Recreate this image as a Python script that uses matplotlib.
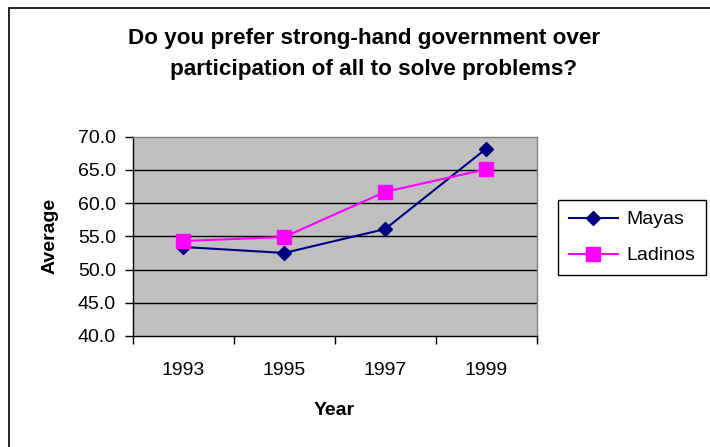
import matplotlib
matplotlib.use("Agg")
import matplotlib.pyplot as plt
from matplotlib.patches import Rectangle

years = ["1993", "1995", "1997", "1999"]
mayas = [53.4, 52.5, 56.1, 68.2]
ladinos = [54.3, 54.9, 61.7, 65.1]
y_ticks = [40.0, 45.0, 50.0, 55.0, 60.0, 65.0, 70.0]

plt.rcParams["font.family"] = ["Liberation Sans", "DejaVu Sans"]

W, H = 710, 447
fig = plt.figure(figsize=(W / 100, H / 100), dpi=100)
fig.patch.set_facecolor("white")

# outer chart border (open to the right and bottom)
fig.patches.append(Rectangle((8.5 / W, -0.2), 1.2, 1.2 - 7.5 / H,
                             transform=fig.transFigure, fill=False,
                             edgecolor="black", linewidth=1.2))

ax = fig.add_axes([132.7 / W, 111 / H, 404 / W, 199.3 / H])
ax.set_facecolor("#C0C0C0")

x = list(range(len(years)))
ax.plot(x, mayas, color="#000080", marker="D", markersize=7, linewidth=1.5,
        label="Mayas", zorder=3)
ax.plot(x, ladinos, color="#FF00FF", marker="s", markersize=9.5, linewidth=1.5,
        label="Ladinos", zorder=3)

ax.set_xlim(-0.5, len(years) - 0.5)
ax.set_ylim(40, 70)
ax.set_yticks(y_ticks)
ax.set_yticklabels([f"{v:.1f}" for v in y_ticks], fontsize=14)
for v in y_ticks[1:-1]:
    ax.axhline(v, color="black", linewidth=1.0, zorder=1)

ax.set_xticks([i + 0.5 for i in range(-1, len(years))])
ax.set_xticklabels([])
ax.set_xticks(x, minor=True)
ax.set_xticklabels(years, minor=True, fontsize=14)
ax.tick_params(axis="x", which="minor", length=0, pad=18.5)
ax.tick_params(axis="x", which="major", length=6, width=1, direction="out")
ax.tick_params(axis="y", length=6, width=1, direction="out", pad=6)

for side in ("top", "right"):
    ax.spines[side].set_color("#808080")
    ax.spines[side].set_linewidth(1.0)
for side in ("left", "bottom"):
    ax.spines[side].set_color("black")
    ax.spines[side].set_linewidth(1.0)

ax.set_xlabel("Year", fontsize=14, fontweight="bold", labelpad=17)
ax.set_ylabel("Average", fontsize=14, fontweight="bold", labelpad=14)

fig.text(364 / W, 1 - 38.5 / H, "Do you prefer strong-hand government over",
         ha="center", va="center", fontsize=16.2, fontweight="bold")
fig.text(374 / W, 1 - 70 / H, "participation of all to solve problems?",
         ha="center", va="center", fontsize=16.2, fontweight="bold")

leg = ax.legend(loc="upper left", bbox_to_anchor=(558 / W, 1 - 200 / H),
                bbox_transform=fig.transFigure, fontsize=14, frameon=True,
                fancybox=False, edgecolor="black", framealpha=1,
                handlelength=2.55, borderpad=0.55, labelspacing=0.95,
                handletextpad=0.4, borderaxespad=0)
leg.get_frame().set_linewidth(1.0)

fig.savefig("out.png", dpi=100)
